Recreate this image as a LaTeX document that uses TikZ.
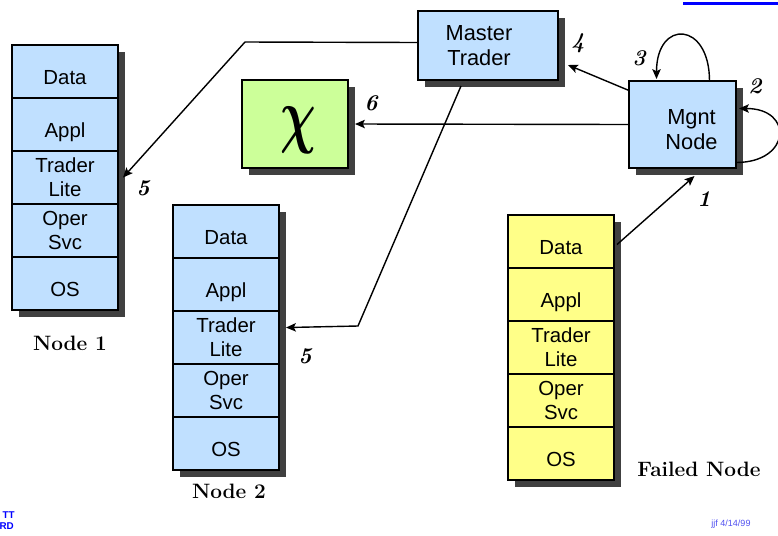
\RequirePackage{fix-cm}
\documentclass[tikz,border=0pt]{standalone}
\usepackage{fontspec}
\setsansfont{Liberation Sans}
\usetikzlibrary{arrows.meta, positioning, calc, shadows}
\definecolor{cBlueFill}{HTML}{C0E0FF}
\definecolor{cGreenFill}{HTML}{CCFF99}
\definecolor{cYellowFill}{HTML}{FFFF88}
\definecolor{cShadow}{HTML}{404040}
\definecolor{cRule}{HTML}{0000FF}
\definecolor{cStamp}{HTML}{5050F0}
\tikzset{
  box/.style={
    rectangle, draw=black, line width=1pt, fill=#1,
    inner sep=0pt, outer sep=0pt,
    drop shadow={shadow xshift=0.175cm, shadow yshift=-0.175cm,
                 fill=cShadow, opacity=1}
  },
  cell/.style={
    box=#1, minimum width=2.65cm, minimum height=1.325cm,
    align=center, font=\sffamily\fontsize{14.5}{17.2}\selectfont
  },
  bcell/.style={cell=cBlueFill},
  ycell/.style={cell=cYellowFill},
  oneline/.style={text height=19pt, text depth=0pt},
  boxtext/.style={align=center, inner sep=0pt,
    font=\sffamily\fontsize{15.5}{18}\selectfont},
  arrow/.style={-{Stealth[length=7pt, width=6pt, inset=1.5pt]}, line width=1pt},
  num/.style={font=\fontsize{16}{16}\selectfont\bfseries\itshape},
  caption/.style={font=\fontsize{14.8}{14.8}\selectfont\bfseries},
}

\begin{document}
\begin{tikzpicture}[x=0.025cm, y=-0.025cm]
  \useasboundingbox (0,0) rectangle (778,535);

  % Node 1 stack
  \node[bcell, oneline, anchor=north west] (n1data) at (12,45) {Data};
  \node[bcell, oneline, below=0pt of n1data] (n1appl) {Appl};
  \node[bcell, below=0pt of n1appl] (n1trader) {Trader\\Lite};
  \node[bcell, below=0pt of n1trader] (n1oper) {Oper\\Svc};
  \node[bcell, oneline, below=0pt of n1oper] (n1os) {OS};
  \node[caption] (n1cap) at (70,343) {Node 1};

  % Node 2 stack
  \node[bcell, oneline, anchor=north west] (n2data) at (173,205) {Data};
  \node[bcell, oneline, below=0pt of n2data] (n2appl) {Appl};
  \node[bcell, below=0pt of n2appl] (n2trader) {Trader\\Lite};
  \node[bcell, below=0pt of n2trader] (n2oper) {Oper\\Svc};
  \node[bcell, oneline, below=0pt of n2oper] (n2os) {OS};
  \node[caption] (n2cap) at (229,491) {Node 2};

  % Failed node stack
  \node[ycell, oneline, anchor=north west] (fdata) at (508,215) {Data};
  \node[ycell, oneline, below=0pt of fdata] (fappl) {Appl};
  \node[ycell, below=0pt of fappl] (ftrader) {Trader\\Lite};
  \node[ycell, below=0pt of ftrader] (foper) {Oper\\Svc};
  \node[ycell, oneline, below=0pt of foper] (fos) {OS};
  \node[caption] (fcap) at (699,469) {Failed Node};

  % Master, chi and management boxes
  \node[box=cBlueFill, minimum width=3.5cm, minimum height=1.725cm,
        label={[boxtext, xshift=-0.225cm]center:Master\\Trader}]
        (master) at (488,45.5) {};
  \node[box=cGreenFill, minimum width=2.65cm, minimum height=2.2cm,
        label={[inner sep=0pt, xshift=0.075cm, yshift=-0.15cm,
                font=\fontsize{52}{52}\selectfont]center:\scalebox{0.68}[1]{\boldmath$\chi$}}]
        (chi) at (295,124) {};
  \node[box=cBlueFill, minimum width=2.675cm, minimum height=2.175cm,
        label={[boxtext, xshift=0.225cm, yshift=-0.125cm]center:Mgnt\\Node}]
        (mgnt) at (682.5,124.5) {};

  % Connectors
  \coordinate (bend1) at (245,42);
  \coordinate (bend2) at (358,326);
  \draw[arrow] ($(master.west)+(0,-3)$) -- (bend1) -- ($(n1trader.east)+(5,0)$);
  \draw[arrow] ($(master.south)+(-27,6)$) -- (bend2) -- ($(n2trader.east)+(7,-10)$);
  \draw[arrow] (mgnt.west) -- ($(chi.east)+(7,0)$);
  \draw[arrow] ($(mgnt.west)+(0,-34)$) -- ($(master.south east)+(10,-15)$);
  \draw[arrow] ($(mgnt.north)+(27,0)$) .. controls +(0,-60) and +(0,-60)
    .. ($(mgnt.north)+(-26,-2)$);
  \draw[arrow] ($(mgnt.east)+(0,38)$) .. controls +(55,0) and +(55,0)
    .. ($(mgnt.east)+(3,-16)$);
  \draw[arrow] ($(fdata.east)+(3,3)$) -- ($(mgnt.south)+(12,8)$);

  % Step numbers
  \node[num] (step5a) at (143,188) {5};
  \node[num] (step5b) at (305,356) {5};
  \node[num] (step6) at (371,103) {6};
  \node[num] (step4) at (578,43) {4};
  \node[num] (step3) at (639,58) {3};
  \node[num] (step2) at (755,86) {2};
  \node[num] (step1) at (704,199) {1};

  % Page furniture
  \draw[cRule, line width=2.2pt] (683,3.5) -- (778,3.5);
  \node[anchor=east, text=cRule, inner sep=0pt,
        font=\sffamily\bfseries\fontsize{7}{7}\selectfont] (logotop) at (15,515) {TT};
  \node[anchor=east, text=cRule, inner sep=0pt,
        font=\sffamily\bfseries\fontsize{7}{7}\selectfont] (logobot) at (14,526) {RD};
  \node[text=cStamp, inner sep=0pt,
        font=\sffamily\fontsize{6.4}{6.4}\selectfont] (stamp) at (731,524) {jjf 4/14/99};

\end{tikzpicture}
\end{document}
